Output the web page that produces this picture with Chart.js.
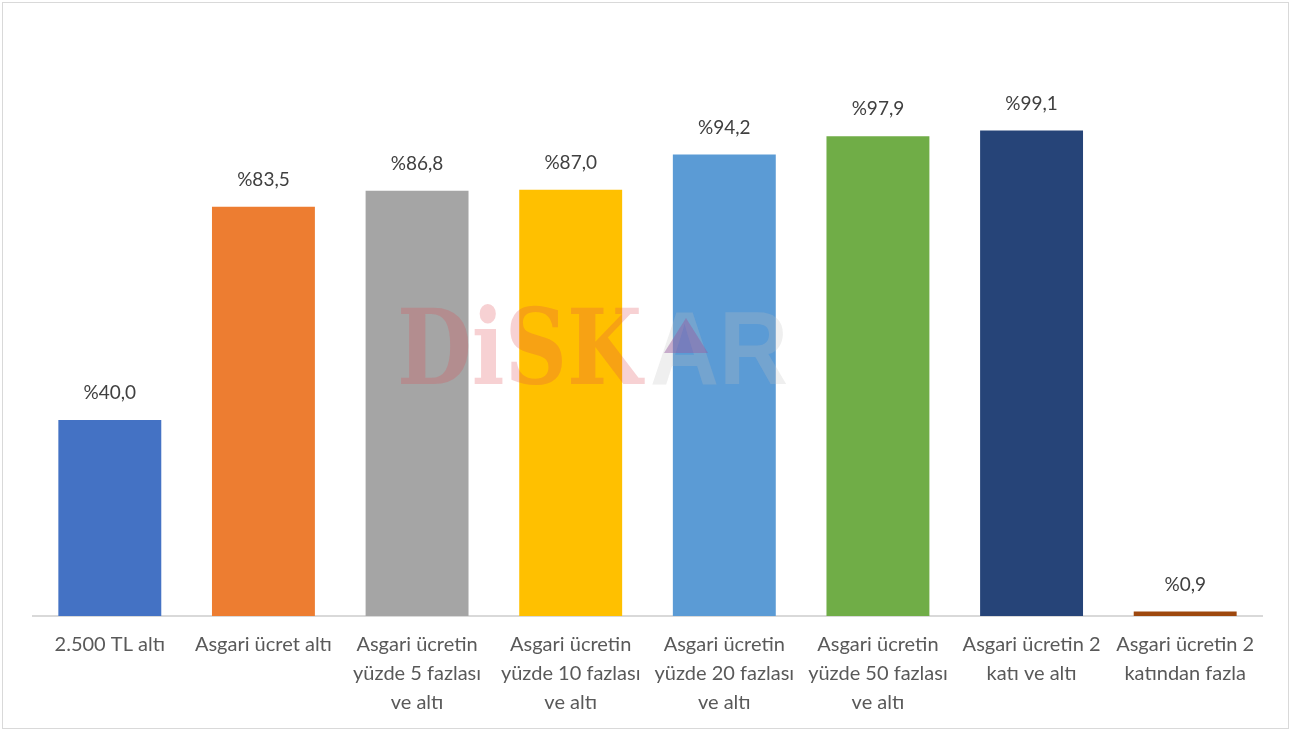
<!DOCTYPE html>
<html>
  <head>
    <title>Asgari ücret dağılımı</title>
    <script src="https://cdn.jsdelivr.net/npm/chart.js@4.4.1/dist/chart.umd.min.js"></script>
    <style>
      body { margin: 0; background: #fff; }
      #container { width: 1291px; height: 731px; }
    </style>
  </head>
  <body>
    <div id="container">
      <canvas id="canvas"></canvas>
    </div>
    <script>
      const categories = [
        '2.500 TL altı',
        'Asgari ücret altı',
        ['Asgari ücretin', 'yüzde 5 fazlası', 've altı'],
        ['Asgari ücretin', 'yüzde 10 fazlası', 've altı'],
        ['Asgari ücretin', 'yüzde 20 fazlası', 've altı'],
        ['Asgari ücretin', 'yüzde 50 fazlası', 've altı'],
        ['Asgari ücretin 2', 'katı ve altı'],
        ['Asgari ücretin 2', 'katından fazla'],
      ];
      const shares = [40.0, 83.5, 86.8, 87.0, 94.2, 97.9, 99.1, 0.9];
      const barColors = ['#4472C4', '#ED7D31', '#A5A5A5', '#FFC000', '#5B9BD5', '#70AD47', '#264478', '#9E480E'];

      const FONT = 'Lato, "Open Sans", sans-serif';

      // value labels like "%40,0" above each bar
      const valueLabels = {
        id: 'valueLabels',
        afterDatasetsDraw(chart) {
          const ctx = chart.ctx;
          const meta = chart.getDatasetMeta(0);
          ctx.save();
          ctx.font = '19px ' + FONT;
          ctx.fillStyle = '#404040';
          ctx.textAlign = 'center';
          ctx.textBaseline = 'middle';
          meta.data.forEach((bar, i) => {
            ctx.fillText('%' + shares[i].toFixed(1).replace('.', ','), bar.x, bar.y - 27);
          });
          ctx.restore();
        },
      };

      // faint watermark and outer frame
      const frame = {
        id: 'frame',
        beforeDraw(chart) {
          const ctx = chart.ctx;
          ctx.save();
          ctx.fillStyle = '#fff';
          ctx.fillRect(0, 0, chart.width, chart.height);
          ctx.restore();
        },
        afterDraw(chart) {
          const ctx = chart.ctx;
          ctx.save();
          ctx.translate(397, 384);
          ctx.scale(0.83, 1);
          ctx.font = 'bold 104px "DejaVu Serif", serif';
          ctx.fillStyle = 'rgba(225, 70, 80, 0.25)';
          ctx.fillText('DiSK', 0, 0);
          ctx.restore();

          ctx.save();
          ctx.translate(650, 384);
          ctx.scale(0.92, 1);
          ctx.font = 'bold 104px "Liberation Sans", sans-serif';
          ctx.fillStyle = 'rgba(190, 190, 190, 0.25)';
          ctx.fillText('AR', 0, 0);
          ctx.restore();

          ctx.save();
          ctx.beginPath();
          ctx.moveTo(686, 318);
          ctx.lineTo(708, 353);
          ctx.lineTo(664, 353);
          ctx.closePath();
          ctx.fillStyle = 'rgba(150, 90, 160, 0.45)';
          ctx.fill();
          ctx.strokeStyle = '#D9D9D9';
          ctx.lineWidth = 1;
          ctx.strokeRect(2.5, 2.5, chart.width - 5, chart.height - 5);
          ctx.restore();
        },
      };

      new Chart(document.getElementById('canvas'), {
        type: 'bar',
        data: {
          labels: categories,
          datasets: [{
            data: shares,
            backgroundColor: barColors,
            categoryPercentage: 0.67,
            barPercentage: 1,
          }],
        },
        options: {
          responsive: true,
          maintainAspectRatio: false,
          animation: false,
          layout: { padding: { left: 33, right: 29, top: 28, bottom: 0 } },
          plugins: {
            legend: { display: false },
            tooltip: { enabled: false },
          },
          scales: {
            x: {
              grid: { display: true, drawOnChartArea: false, drawTicks: false },
              border: { display: true, color: '#D9D9D9', width: 2 },
              ticks: {
                color: '#595959',
                padding: 14,
                maxRotation: 0,
                autoSkip: false,
                font: { family: FONT, size: 20, lineHeight: 1.45 },
              },
            },
            y: {
              display: false,
              min: 0,
              max: 120,
            },
          },
        },
        plugins: [valueLabels, frame],
      });
    </script>
  </body>
</html>
